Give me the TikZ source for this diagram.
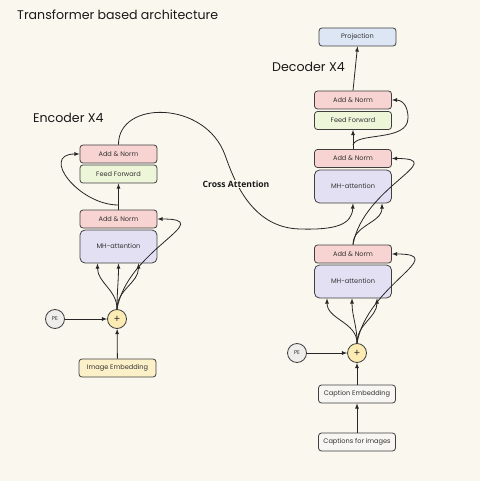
\documentclass[tikz,border=0pt]{standalone}
\usepackage{fontspec}
\setmainfont{Poppins}
\newfontfamily\crossfont{Open Sans}
\usepackage{tikz}
\usetikzlibrary{arrows,calc}
\definecolor{bg-cream}{RGB}{250,247,238}
\definecolor{norm-pink}{RGB}{247,212,210}
\definecolor{ff-green}{RGB}{238,246,218}
\definecolor{attn-lilac}{RGB}{228,224,244}
\definecolor{proj-blue}{RGB}{221,230,244}
\definecolor{emb-yellow}{RGB}{252,240,201}
\definecolor{plus-yellow}{RGB}{252,235,179}
\definecolor{pe-grey}{RGB}{238,237,235}
\definecolor{cap-white}{RGB}{247,246,243}
\definecolor{edge-grey}{RGB}{63,63,63}
\tikzstyle{block}=[draw=edge-grey, line width=0.8pt, rounded corners=3pt, minimum width=77pt, minimum height=18pt, inner sep=0pt, text=black!80, font=\fontsize{6.6}{7.5}\selectfont]
\tikzstyle{addnorm}=[block, fill=norm-pink]
\tikzstyle{feedfwd}=[block, fill=ff-green]
\tikzstyle{mhattn}=[block, fill=attn-lilac, minimum height=33pt, rounded corners=5pt]
\tikzstyle{circ}=[circle, draw=edge-grey, line width=0.8pt, minimum size=19pt, inner sep=0pt, text=black!80]
\tikzstyle{link}=[line width=0.8pt, draw=black!85, ->]
\tikzstyle{heading}=[anchor=west, inner sep=0pt, text=black!90, font=\fontsize{12.6}{14}\selectfont]

\begin{document}
\begin{tikzpicture}[x=1pt,y=1pt,>=latex]
	\fill[bg-cream] (0,0) rectangle (480,-481);
	\node[heading] (title) at (17,-15) {Transformer based architecture};
	\node[heading] (encLbl) at (33,-118) {Encoder X4};
	\node[heading] (decLbl) at (272,-67) {Decoder X4};
	\node[addnorm] (eAN2) at (118.5,-154) {Add \& Norm};
	\node[feedfwd] (eFF) at (118.5,-174) {Feed Forward};
	\node[addnorm] (eAN1) at (118.5,-219) {Add \& Norm};
	\node[mhattn] (eMH) at (118.5,-246.5) {MH-attention};
	\node[circ, fill=plus-yellow, font=\fontsize{10}{10}\selectfont] (ePlus) at (117,-319) {+};
	\node[circ, fill=pe-grey, font=\fontsize{5.5}{6}\selectfont] (ePE) at (55,-319) {PE};
	\node[block, fill=emb-yellow] (eEmb) at (117.5,-368) {Image Embedding};
	\coordinate (eSplit) at (118.5,-205);
	\node[block, fill=proj-blue] (proj) at (357.5,-37) {Projection};
	\node[addnorm] (dAN3) at (353,-100) {Add \& Norm};
	\node[feedfwd] (dFF) at (353,-120.5) {Feed Forward};
	\node[addnorm] (dAN2) at (353,-158.5) {Add \& Norm};
	\node[mhattn] (dMH2) at (353,-186.5) {MH-attention};
	\node[addnorm] (dAN1) at (353,-254) {Add \& Norm};
	\node[mhattn] (dMH1) at (353,-281.5) {MH-attention};
	\node[circ, fill=plus-yellow, font=\fontsize{10}{10}\selectfont] (dPlus) at (357,-353) {+};
	\node[circ, fill=pe-grey, font=\fontsize{5.5}{6}\selectfont] (dPE) at (297,-353) {PE};
	\node[block, fill=cap-white] (capEmb) at (357,-394) {Caption Embedding};
	\node[block, fill=cap-white] (capImg) at (357,-442) {Captions for images};
	\coordinate (dSplit) at (353,-145);
	\foreach \dx in {-21,0,20}
		\draw[link] (ePlus.north) to[out=90,in=-90] ($(eMH.south)+(\dx,0)$);
	\draw[link] (ePlus.north) to[out=80,in=0,looseness=1.6] (eAN1.east);
	\draw[link] (eAN1.north) -- (eFF.south);
	\draw[link] (eSplit) to[out=180,in=180,looseness=1.6] (eAN2.west);
	\draw[link] (ePE) -- (ePlus);
	\draw[link] (eEmb) -- (ePlus);
	\draw[link] (eAN2.north) .. controls (118,-100) and (205,-100) .. (225,-155) .. controls (233,-177) and (250,-228) .. (300,-229) .. controls (335,-230) and (352,-225) .. (dMH2.south);
	\node[fill=bg-cream, inner sep=1pt, text=black!90, font=\crossfont\bfseries\fontsize{8.6}{10}\selectfont] (crossLbl) at (236,-184) {Cross Attention};
	\draw[link] (dAN3.north) -- (proj.south);
	\draw[link] (dAN2.north) -- (dFF.south);
	\draw[link] (dSplit) .. controls (356,-132) and (408,-142) .. (408,-118) .. controls (408,-103) and (400,-100) .. (dAN3.east);
	\draw[link] (dAN1.north) to[out=90,in=-90] ($(dMH2.south)+(29,0)$);
	\draw[link] (dAN1.north) to[out=80,in=0,looseness=1.6] (dAN2.east);
	\foreach \dx in {-26,-1,24}
		\draw[link] (dPlus.north) to[out=90,in=-90] ($(dMH1.south)+(\dx,0)$);
	\draw[link] (dPlus.north) to[out=80,in=0,looseness=1.6] (dAN1.east);
	\draw[link] (dPE) -- (dPlus);
	\draw[link] (capEmb) -- (dPlus);
	\draw[link] (capImg) -- (capEmb);
\end{tikzpicture}
\end{document}
